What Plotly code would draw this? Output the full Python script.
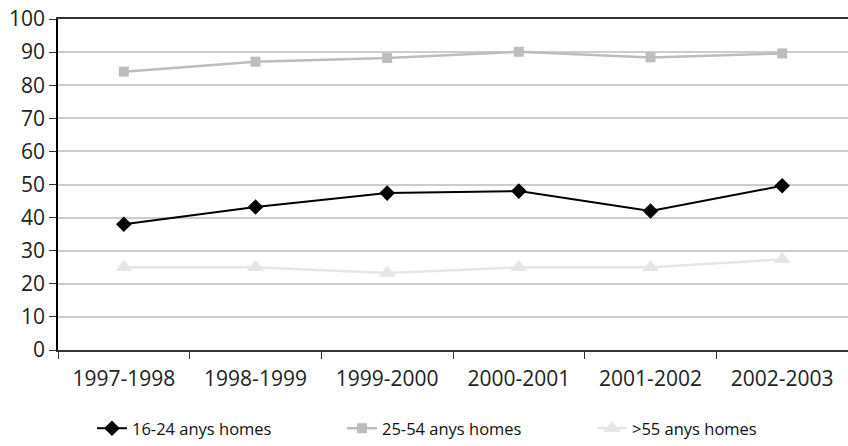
import plotly.graph_objs as go

# %% Dades

periodes = ["1997-1998", "1998-1999", "1999-2000", "2000-2001", "2001-2002", "2002-2003"]
homes_16_24 = [38.0, 43.2, 47.4, 48.0, 42.0, 49.6]
homes_25_54 = [84.1, 87.1, 88.2, 90.1, 88.4, 89.6]
homes_55 = [25.0, 25.0, 23.3, 25.0, 25.0, 27.4]

font_family = "Open Sans, Noto Sans, sans-serif"

fig = go.Figure()

# Series
fig.add_trace(go.Scatter(
    x=periodes, y=homes_16_24,
    mode="lines+markers",
    name="16-24 anys homes",
    line=dict(color="#000000", width=2),
    marker=dict(symbol="diamond", size=12, color="#000000")))

fig.add_trace(go.Scatter(
    x=periodes, y=homes_25_54,
    mode="lines+markers",
    name="25-54 anys homes",
    line=dict(color="#BDBDBD", width=2.5),
    marker=dict(symbol="square", size=10, color="#BDBDBD")))

fig.add_trace(go.Scatter(
    x=periodes, y=homes_55,
    mode="lines+markers",
    name=">55 anys homes",
    line=dict(color="#E6E6E6", width=2.5),
    marker=dict(symbol="triangle-up", size=15, color="#E6E6E6")))

# Layout
fig.update_layout(
    width=848, height=446,
    margin=dict(l=58, r=0, t=19, b=96),
    plot_bgcolor="white",
    paper_bgcolor="white",
    font=dict(family=font_family, size=21, color="#222222"),
    showlegend=True,
    legend=dict(
        orientation="h",
        x=0.043, xanchor="left",
        y=-0.29, yanchor="bottom",
        font=dict(size=16.5, color="#111111"),
        entrywidth=205, entrywidthmode="pixels",
        tracegroupgap=0,
        traceorder="normal"),
    xaxis=dict(
        type="category",
        range=[-0.5, 5.5],
        automargin=False,
        showline=True, linecolor="#333333", linewidth=1.5,
        mirror=True,
        ticks="outside", ticklen=7, tickcolor="#333333",
        tickson="boundaries",
        ticklabelstandoff=9,
        showgrid=False,
        tickfont=dict(size=21)),
    yaxis=dict(
        range=[0, 100],
        dtick=10,
        automargin=False,
        showline=True, linecolor="#000000", linewidth=1.5,
        ticks="outside", ticklen=7, tickcolor="#333333",
        showgrid=True, gridcolor="#CCCCCC", gridwidth=1.5,
        zeroline=False,
        tickfont=dict(size=21)),
)

# marge del body a zero perque la figura quedi a (0,0)
fig.write_html("out.html", config={"displayModeBar": False},
               post_script="document.body.style.margin='0';")
